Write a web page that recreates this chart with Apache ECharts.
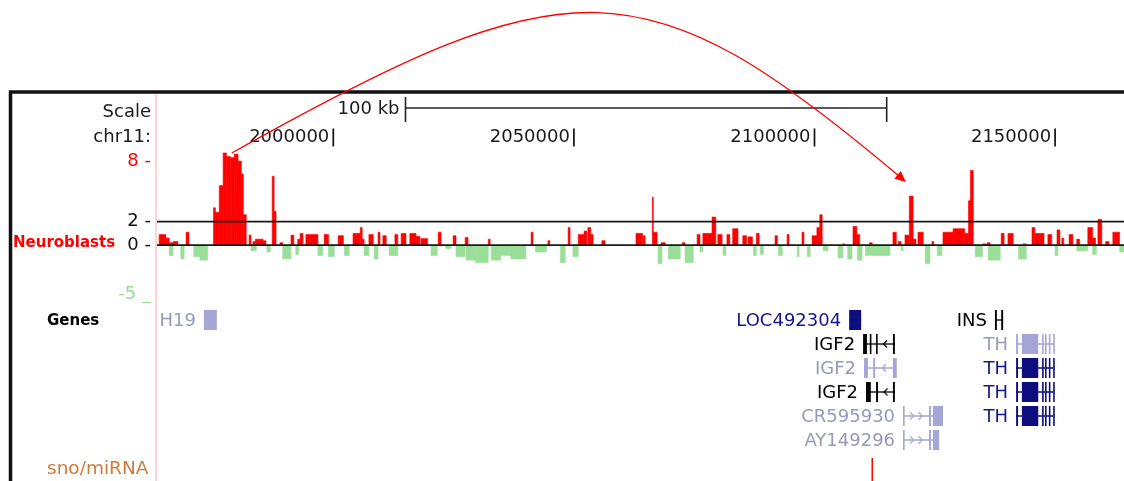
<!DOCTYPE html>
<html><head><meta charset="utf-8">
<script src="https://cdn.jsdelivr.net/npm/echarts@6/dist/echarts.min.js"></script>
<style>html,body{margin:0;padding:0;background:#fff;}#c{width:1124px;height:481px;}</style>
</head><body><div id="c"></div>
<script>
// ---- data (chr11 positions in kb) ----
const xMin = 1963.36, xMax = 2164.32;
const rulerTicks = [2000, 2050, 2100, 2150];
const yTickValues = [8, 2, 0, -5];
const yTickLabels = ['8 -', '2 -', '0 -', '-5 _'];
const refLevels = [0, 2];
const scaleBarStart = 2015.0, scaleBarKb = 100;
const scaleBarLabel = '100 kb';

// Neuroblasts signal: [start kb, end kb, value]
const plusSegments = [
[1963.8,1965.2,0.9],[1965.2,1965.9,0.6],[1965.9,1966.7,0.2],[1966.7,1967.7,0.3],[1969.4,1970.0,1.1],
[1975.1,1975.5,3.2],[1975.5,1976.3,2.8],[1976.3,1977.1,5.1],[1977.1,1977.8,7.9],[1977.8,1978.6,7.6],[1978.6,1979.4,7.5],[1979.4,1980.2,7.8],[1980.2,1980.9,7.2],[1980.9,1981.3,6.1],[1981.3,1981.9,2.6],
[1982.5,1982.9,0.85],[1983.3,1983.8,0.3],[1983.8,1985.4,0.5],[1985.4,1986.0,0.37],[1987.3,1987.7,5.9],[1987.7,1988.1,2.9],[1988.9,1989.5,0.2],[1991.2,1991.8,0.85],[1992.6,1993.1,0.5],[1993.1,1993.7,1.0],[1994.3,1996.8,0.9],[1998.1,1999.0,0.9],
[2001.0,2002.1,0.8],[2004.1,2005.6,1.0],[2005.6,2006.0,1.5],[2006.0,2006.4,0.5],[2007.4,2008.3,0.9],[2009.3,2009.7,1.1],[2010.3,2011.0,0.8],[2012.8,2013.4,0.9],
[2014.1,2015.1,1.0],[2015.9,2017.2,1.0],[2017.2,2018.0,0.75],[2018.2,2019.6,0.55],[2021.8,2022.4,1.1],[2024.9,2025.5,0.8],[2027.4,2028.0,0.65],[2032.2,2032.6,0.5],[2041.1,2041.5,1.1],[2044.6,2045.0,0.37],[2048.8,2049.2,1.5],[2050.9,2052.1,0.9],[2052.1,2052.7,1.2],[2052.9,2053.5,1.5],[2053.5,2054.0,0.9],[2055.8,2056.5,0.37],[2062.9,2064.3,1.0],
[2064.4,2064.8,0.8],[2066.3,2066.5,4.1],[2066.5,2067.3,1.1],[2068.1,2069.0,0.2],[2072.5,2073.1,0.2],[2075.6,2076.2,0.9],[2076.8,2078.7,1.0],[2078.7,2079.5,2.4],[2079.9,2080.8,0.9],[2081.8,2082.4,0.9],[2083.0,2084.1,1.4],[2085.1,2085.9,0.8],[2086.2,2087.1,0.7],[2087.9,2088.5,1.0],[2091.8,2092.3,0.8],[2094.3,2094.7,0.9],[2097.4,2097.8,1.1],[2099.5,2100.5,0.8],[2100.5,2101.1,1.5],[2101.1,2101.6,2.6],[2105.9,2106.3,0.1],[2108.0,2108.8,1.6],[2108.8,2109.4,0.9],[2111.4,2112.0,0.2],
[2116.3,2117.0,1.1],[2117.4,2118.0,0.3],[2118.8,2119.7,0.85],[2119.7,2120.5,4.2],[2120.5,2121.1,0.5],[2121.5,2122.6,1.1],[2124.4,2124.8,0.3],[2126.7,2128.8,1.1],[2128.8,2131.2,1.4],[2131.2,2132.0,1.0],[2132.0,2132.4,3.8],[2132.4,2133.0,6.4],[2134.9,2135.7,0.1],[2135.9,2136.5,0.2],[2138.8,2139.4,1.0],[2140.2,2141.3,1.0],[2143.3,2144.0,0.1],[2145.2,2145.8,1.5],[2145.8,2147.7,1.0],[2148.5,2149.3,0.9],[2150.4,2151.0,1.3],[2151.4,2151.8,0.6],[2152.9,2153.7,0.9],[2154.5,2155.1,0.5],[2156.8,2157.8,1.5],[2157.8,2158.4,0.6],[2158.9,2159.7,2.2],[2160.5,2161.2,0.3],[2162.0,2163.4,1.1]
];
const minusSegments = [
[1965.9,1966.7,-0.9],[1968.3,1969.0,-1.2],[1971.0,1972.3,-1.0],[1972.3,1973.9,-1.3],[1982.9,1984.0,-0.5],[1986.2,1986.9,-0.6],[1989.5,1991.2,-1.2],[1992.2,1992.8,-0.8],[1996.8,1997.8,-0.9],[1999.0,2000.2,-1.0],
[2002.3,2003.3,-0.9],[2006.4,2007.4,-0.9],[2008.5,2009.3,-1.2],[2011.6,2013.4,-0.9],[2020.3,2021.6,-0.9],[2023.3,2024.5,-0.3],[2025.5,2027.4,-1.0],[2027.6,2029.5,-1.3],[2029.5,2032.2,-1.5],[2032.8,2034.8,-1.3],
[2034.8,2036.9,-0.9],[2036.9,2040.0,-1.2],[2042.0,2044.3,-0.6],[2047.2,2048.2,-1.5],[2049.8,2050.9,-1.0],[2067.5,2068.3,-1.6],[2069.6,2072.1,-1.2],[2073.1,2074.8,-1.5],[2076.2,2076.8,-0.6],[2081.0,2081.6,-0.9],
[2087.3,2087.9,-0.9],[2088.7,2089.4,-0.8],[2092.5,2093.3,-0.9],[2096.4,2096.8,-1.0],[2098.5,2099.1,-1.0],[2101.8,2102.8,-0.5],[2104.9,2105.9,-1.1],[2106.9,2107.8,-1.2],[2108.9,2109.9,-1.3],[2110.6,2115.7,-0.9],
[2118.0,2118.4,-0.5],[2123.0,2124.0,-1.6],[2125.5,2126.5,-0.9],[2133.4,2134.9,-1.0],[2136.1,2138.6,-1.3],[2142.4,2144.0,-1.2],[2150.0,2150.6,-0.9],[2154.5,2156.8,-0.5],[2157.8,2158.6,-0.8],[2163.4,2164.3,-0.6]
];

// Genes track
const geneNames   = ['H19','LOC492304','INS','IGF2','IGF2','IGF2','CR595930','AY149296','TH','TH','TH','TH'];
const geneRows    = [0,0,0,1,2,3,4,5,1,2,3,4];
const geneKinds   = ['pale','dark','black','black','pale','black','pale','pale','pale','dark','dark','dark'];
const geneStrands = ['-','+','-','-','-','-','+','+','-','-','-','-'];
const thExons = [[2141.9,2142.3],[2143.1,2146.5],[2147.3,2147.5],[2147.9,2148.1],[2148.7,2148.9],[2149.6,2149.8]];
const geneExons = [
  [[1973.1,1975.8]],
  [[2107.2,2109.7]],
  [[2137.5,2137.9],[2138.8,2139.2]],
  [[2110.1,2110.9],[2111.5,2111.7],[2112.8,2113.0],[2116.3,2116.7]],
  [[2110.3,2111.1],[2112.2,2112.6],[2116.3,2117.1]],
  [[2110.7,2111.7],[2112.8,2113.2],[2116.3,2116.7]],
  [[2118.4,2118.6],[2123.8,2124.2],[2124.6,2126.7]],
  [[2118.4,2118.6],[2123.8,2124.2],[2124.6,2125.9]],
  thExons, thExons, thExons, thExons
];
const snoPositions = [2112.0];
const snoRow = 6;

// annotation arc (kb, signal value)
const arcStart = [1978.9, 7.9];
const arcCtrl1 = [2049.6, 24.3];
const arcCtrl2 = [2064.8, 24.3];
const arcEnd   = [2119.0, 5.41];

// ---- styling ----
const FF = '"DejaVu Sans", sans-serif';
const glyphColor = {pale:'#a6a6d6', dark:'#0e0e7e', black:'#000000'};
const textColor  = {pale:'#9898be', dark:'#16168a', black:'#000000'};
const RED = '#ff0000', GREEN = '#9ade9a';

const chart = echarts.init(document.getElementById('c'), null, {renderer:'canvas'});

function segRender(color){
  return function(params, api){
    const s = api.value(0), e = api.value(1), v = api.value(2);
    const a = api.coord([s, v]), b = api.coord([e, 0]);
    return {type:'rect', shape:{x:a[0], y:Math.min(a[1],b[1]), width:Math.max(b[0]-a[0],1), height:Math.abs(b[1]-a[1])},
      style:{fill:color, stroke:color, lineWidth:0.6}};
  };
}

function renderGene(params, api){
  const i = api.value(2);
  const ex = geneExons[i];
  const color = glyphColor[geneKinds[i]];
  const yc = api.coord([ex[0][0], geneRows[i] + 0.5])[1];
  const xs = api.coord([ex[0][0], 0])[0];
  const xe = api.coord([ex[ex.length-1][1], 0])[0];
  const ch = [];
  ch.push({type:'line', shape:{x1:xs,y1:yc,x2:xe,y2:yc}, style:{stroke:color, lineWidth:1.3}});
  const d = geneStrands[i] === '+' ? 1 : -1;
  for (let k = 0; k < ex.length-1; k++){
    const g0 = api.coord([ex[k][1],0])[0], g1 = api.coord([ex[k+1][0],0])[0];
    const w = g1 - g0;
    if (w > 9){
      const n = Math.floor(w/9);
      for (let j = 1; j <= n; j++){
        const cx = g0 + j*w/(n+1);
        ch.push({type:'polyline', shape:{points:[[cx-2*d,yc-3.5],[cx+1.5*d,yc],[cx-2*d,yc+3.5]]}, style:{stroke:color, lineWidth:1.2, fill:null}});
      }
    }
  }
  ex.forEach(function(e){
    const a = api.coord([e[0],0])[0], b = api.coord([e[1],0])[0];
    ch.push({type:'rect', shape:{x:a, y:yc-10, width:Math.max(b-a,1.6), height:20}, style:{fill:color}});
  });
  ch.push({type:'text', style:{text:geneNames[i], x:xs-8, y:yc+1, align:'right', verticalAlign:'middle',
    fontSize:18, fontFamily:FF, fill:textColor[geneKinds[i]]}});
  return {type:'group', children:ch};
}

function renderSno(params, api){
  const p = api.coord([api.value(0), snoRow + 0.5]);
  return {type:'line', shape:{x1:p[0], y1:p[1]-6, x2:p[0], y2:p[1]+22}, style:{stroke:RED, lineWidth:1.5}};
}

function renderRef(params, api){
  const v = api.value(0);
  const a = api.coord([xMin, v]), b = api.coord([xMax, v]);
  return {type:'line', shape:{x1:a[0], y1:a[1], x2:b[0], y2:b[1]}, style:{stroke:'#1a1a1a', lineWidth:1.8}};
}

function renderRulerTick(params, api){
  const x = api.coord([api.value(0), 8])[0];
  return {type:'line', shape:{x1:x, y1:128.5, x2:x, y2:146.5}, style:{stroke:'#111', lineWidth:1.7}};
}

function renderScale(params, api){
  const a = api.coord([api.value(0), 0])[0], b = api.coord([api.value(1), 0])[0];
  const y = 108;
  const st = {stroke:'#222', lineWidth:1.6};
  return {type:'group', children:[
    {type:'line', shape:{x1:a,y1:y,x2:b,y2:y}, style:st},
    {type:'line', shape:{x1:a,y1:y-11,x2:a,y2:y+14}, style:st},
    {type:'line', shape:{x1:b,y1:y-11,x2:b,y2:y+14}, style:st},
    {type:'text', style:{text:scaleBarLabel, x:a-6, y:y+1.5, align:'right', verticalAlign:'middle', fontSize:18, fontFamily:FF, fill:'#1a1a1a'}}
  ]};
}

function renderArc(params, api){
  const p0 = api.coord(arcStart), c1 = api.coord(arcCtrl1), c2 = api.coord(arcCtrl2), p3 = api.coord(arcEnd);
  const dx = p3[0]-c2[0], dy = p3[1]-c2[1], L = Math.hypot(dx,dy), ux = dx/L, uy = dy/L;
  const len = 11, hw = 5;
  const bx = p3[0]-ux*len, by = p3[1]-uy*len;
  return {type:'group', children:[
    {type:'bezierCurve', shape:{x1:p0[0],y1:p0[1],cpx1:c1[0],cpy1:c1[1],cpx2:c2[0],cpy2:c2[1],x2:bx+ux*3,y2:by+uy*3},
      style:{stroke:RED, lineWidth:1.3, fill:null}},
    {type:'polygon', shape:{points:[[p3[0],p3[1]],[bx-uy*hw, by+ux*hw],[bx+uy*hw, by-ux*hw]]}, style:{fill:RED}}
  ]};
}

chart.setOption({
  animation:false,
  backgroundColor:'#fff',
  grid:[
    {left:157, right:0, top:151.8, height:151.5, outerBoundsMode:'none'},
    {left:157, right:0, top:308, height:168, outerBoundsMode:'none'}
  ],
  xAxis:[
    {gridIndex:0, type:'value', min:xMin, max:xMax, position:'top', offset:5.8,
      axisLine:{show:false}, splitLine:{show:false}, axisTick:{show:false},
      axisLabel:{show:true, customValues:rulerTicks, formatter:function(v){return String(Math.round(v*1000));},
        align:'right', verticalAlign:'middle', margin:9, padding:[0,4,0,0], fontSize:18, fontFamily:FF, color:'#1a1a1a'}},
    {gridIndex:1, type:'value', min:xMin, max:xMax, show:false}
  ],
  yAxis:[
    {gridIndex:0, type:'value', min:-5, max:8, show:false},
    {gridIndex:1, type:'value', min:0, max:7, inverse:true, show:false}
  ],
  series:[
    {type:'custom', name:'Neuroblasts +', xAxisIndex:0, yAxisIndex:0, data:plusSegments, encode:{x:[0,1], y:2}, renderItem:segRender(RED), z:3},
    {type:'custom', name:'Neuroblasts -', xAxisIndex:0, yAxisIndex:0, data:minusSegments, encode:{x:[0,1], y:2}, renderItem:segRender(GREEN), z:3},
    {type:'custom', name:'ref', xAxisIndex:0, yAxisIndex:0, data:refLevels.map(function(v){return [v];}), encode:{y:0}, renderItem:renderRef, z:4},
    {type:'custom', name:'ruler', xAxisIndex:0, yAxisIndex:0, data:rulerTicks.map(function(v){return [v];}), encode:{x:0}, renderItem:renderRulerTick, z:3, clip:false},
    {type:'custom', name:'Genes', xAxisIndex:1, yAxisIndex:1, data:geneNames.map(function(n,i){return [geneExons[i][0][0], geneRows[i], i];}), encode:{x:0, y:1}, renderItem:renderGene, z:3},
    {type:'custom', name:'sno/miRNA', xAxisIndex:1, yAxisIndex:1, data:snoPositions.map(function(p){return [p, snoRow];}), encode:{x:0, y:1}, renderItem:renderSno, z:3},
    {type:'custom', name:'scale', xAxisIndex:0, yAxisIndex:0, data:[[scaleBarStart, scaleBarStart+scaleBarKb]], encode:{x:[0,1]}, renderItem:renderScale, z:3, clip:false},
    {type:'custom', name:'arc', xAxisIndex:0, yAxisIndex:0, data:[[arcStart[0], arcStart[1]]], encode:{x:0, y:1}, renderItem:renderArc, z:10, clip:false}
  ]
});

// left-hand labels
const tickColors = [RED, '#111', '#111', GREEN];
const tickOffsets = [10, 0, 0.5, -9];
const graphics = [
  {type:'rect', shape:{x:10.5, y:92, width:1300, height:600}, style:{fill:null, stroke:'#111', lineWidth:3.5}, z:1},
  {type:'line', shape:{x1:156, y1:94, x2:156, y2:481}, style:{stroke:'#ffc4c4', lineWidth:1.5}, z:1},
  {type:'text', style:{text:'Scale', x:151, y:112, align:'right', verticalAlign:'middle', fontSize:18, fontFamily:FF, fill:'#1a1a1a'}},
  {type:'text', style:{text:'chr11:', x:151, y:137.5, align:'right', verticalAlign:'middle', fontSize:18, fontFamily:FF, fill:'#1a1a1a'}},
  {type:'text', style:{text:'Neuroblasts', x:13, y:243, align:'left', verticalAlign:'middle', fontSize:15, fontWeight:'bold', fontFamily:FF, fill:RED}},
  {type:'text', style:{text:'Genes', x:47, y:321.5, align:'left', verticalAlign:'middle', fontSize:15, fontWeight:'bold', fontFamily:FF, fill:'#000'}},
  {type:'text', style:{text:'sno/miRNA', x:47, y:469, align:'left', verticalAlign:'middle', fontSize:18.5, fontFamily:FF, fill:'#d07a3a'}}
];
yTickValues.forEach(function(v, k){
  const y = chart.convertToPixel({yAxisIndex:0}, v) + tickOffsets[k];
  graphics.push({type:'text', style:{text:yTickLabels[k], x:151, y:y, align:'right', verticalAlign:'middle', fontSize:18, fontFamily:FF, fill:tickColors[k]}});
});
chart.setOption({graphic:graphics});
</script></body></html>
